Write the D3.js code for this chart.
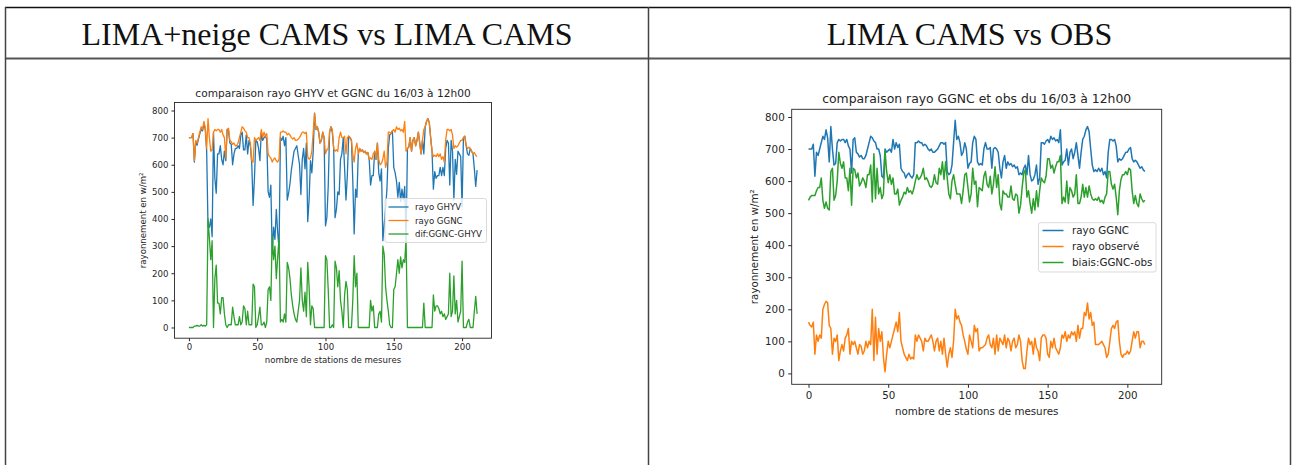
<!DOCTYPE html>
<html lang="fr">
<head>
<meta charset="UTF-8">
<title>Comparaison rayonnement</title>
<script src="https://d3js.org/d3.v7.min.js"></script>
<style>
  body { margin: 0; background: #fff; }
  svg { display: block; }
  .tick text { fill: #262626; }
  .tick line { stroke: #262626; }
</style>
</head>
<body>
<svg width="1292" height="465"></svg>
<script>
// ---- data ----
const headers = ["LIMA+neige CAMS vs LIMA CAMS", "LIMA CAMS vs OBS"];

const ggnc = [
  700,700,700,715,615,690,680,700,720,740,730,760,735,660,770,700,650,655,720,730,
  725,730,730,720,730,710,700,625,730,735,690,685,675,680,670,670,680,700,720,740,
  735,725,720,700,700,680,615,610,700,690,695,700,690,730,700,720,705,715,640,630,
  625,610,620,625,615,610,620,720,720,725,720,720,710,715,710,700,695,700,690,690,
  695,700,710,720,720,715,720,630,620,625,650,720,790,730,740,720,680,690,720,700,
  640,655,660,720,740,730,660,650,655,650,700,720,700,700,705,640,700,705,700,690,
  640,610,660,680,640,660,650,655,645,650,640,645,620,625,620,640,650,620,680,620,
  600,605,620,650,590,610,720,720,715,725,730,720,740,730,735,725,730,720,760,650,
  660,665,700,650,690,700,670,690,720,680,640,690,730,740,760,770,755,700,650,630,
  635,630,640,630,640,620,630,610,690,730,730,725,730,710,660,670,665,670,680,690,
  690,700,705,670,660,665,660,650,640,645,635,630
];

const ghyv = [
  700,700,700,715,610,685,672,695,715,730,725,752,730,650,370,370,400,335,720,550,
  495,640,640,670,620,600,650,615,730,725,680,675,600,640,660,660,670,660,710,720,
  655,655,710,640,690,670,605,450,550,690,685,660,615,720,690,700,705,695,500,480,
  525,270,370,325,435,350,290,700,690,705,670,700,470,495,530,580,615,650,660,670,
  635,600,490,620,660,585,680,390,470,615,570,650,790,730,740,720,680,690,720,700,
  375,405,520,720,740,720,660,405,435,500,490,620,640,700,585,470,560,705,700,690,
  540,345,510,480,640,660,650,655,645,650,640,645,620,525,560,560,650,620,680,570,
  540,585,320,380,440,510,660,710,715,725,590,570,540,480,535,465,510,470,520,320,
  660,665,700,650,690,700,670,690,720,680,640,690,640,740,760,770,755,700,650,510,
  575,550,560,560,590,560,590,560,660,690,680,525,690,650,470,620,565,650,640,630,
  445,700,705,670,640,635,660,650,640,585,520,580
];

const difGgncGhyv = [
  0,0,0,0,5,5,8,5,5,10,5,8,5,10,400,330,250,320,0,180,
  230,90,90,50,110,110,50,10,0,10,10,10,75,40,10,10,10,40,10,20,
  80,70,10,60,10,10,10,160,150,0,10,40,75,10,10,20,0,20,140,150,
  100,340,250,300,180,260,330,20,30,20,50,20,240,220,180,120,80,50,30,20,
  60,100,220,100,60,130,40,240,150,10,80,70,0,0,0,0,0,0,0,0,
  265,250,140,0,0,10,0,245,220,150,210,100,60,0,120,170,140,0,0,0,
  100,265,150,200,0,0,0,0,0,0,0,0,0,100,60,80,0,0,0,50,
  60,20,300,270,150,100,60,10,0,0,140,150,200,250,200,260,220,250,240,330,
  0,0,0,0,0,0,0,0,0,0,0,0,90,0,0,0,0,0,0,120,
  60,80,80,70,50,60,40,50,30,40,50,200,40,60,190,50,100,20,40,60,
  245,0,0,0,20,30,0,0,0,60,115,50
];

const obs = [
  160,150,145,160,60,120,100,120,110,200,215,225,220,150,140,60,110,100,120,40,
  70,90,70,110,120,140,60,100,90,100,80,60,90,85,60,70,100,80,100,90,
  200,40,175,60,140,100,130,50,5,60,100,80,100,120,140,160,130,190,100,80,
  60,50,40,60,45,50,45,120,100,120,110,100,70,110,100,100,110,120,100,70,
  100,110,70,100,60,110,60,20,60,80,50,100,200,170,180,160,150,120,100,75,
  60,120,100,80,150,130,140,70,80,80,85,90,110,120,90,80,110,60,120,70,
  110,100,90,120,80,110,100,70,100,110,80,90,120,100,40,15,15,70,110,90,
  100,60,110,80,70,40,110,120,120,110,60,50,100,80,110,80,70,60,80,120,
  110,130,100,120,110,130,120,130,100,150,110,140,140,190,180,220,170,190,150,160,
  90,90,90,95,100,90,80,50,60,100,140,150,140,160,165,100,60,50,60,60,
  70,60,70,100,130,110,130,130,80,100,100,90
];

const biaisGgncObs = [
  540,550,555,555,555,570,580,580,610,540,515,535,515,510,630,640,540,555,600,690,
  655,640,660,610,610,570,640,525,640,635,610,625,585,595,610,600,580,620,620,650,
  535,685,545,640,560,580,545,560,695,630,595,620,590,610,560,560,575,525,540,550,
  565,560,580,565,570,560,575,600,620,605,610,620,640,605,610,600,585,580,590,620,
  595,590,640,620,660,605,660,610,560,545,600,620,590,560,560,560,530,570,620,625,
  580,535,560,640,590,600,520,580,575,570,615,630,590,580,615,560,590,645,580,620,
  530,510,570,560,560,550,550,585,545,540,560,555,500,525,580,625,635,550,570,530,
  500,545,510,570,520,570,610,600,595,615,670,670,640,650,625,645,660,660,680,530,
  550,535,600,530,580,570,550,560,620,530,530,550,590,550,580,550,585,560,545,540,
  545,540,550,535,540,530,550,560,630,630,590,575,590,550,495,570,605,620,620,630,
  620,640,635,570,530,555,530,520,560,545,535,540
];

const xTicks = [0, 50, 100, 150, 200];
const yTicks = [0, 100, 200, 300, 400, 500, 600, 700, 800];
const xLim = [-10.55, 221.55];
const yLimLeft = [-39.5, 829.5];
const yLimRight = [-34, 824];

const colors = { blue: "#1f77b4", orange: "#ff7f0e", green: "#2ca02c" };

// ---- table frame ----
const svg = d3.select("svg");
const frame = svg.append("g").attr("fill", "none");
frame.append("line").attr("x1", 5).attr("x2", 1291).attr("y1", 7.5).attr("y2", 7.5)
  .attr("stroke", "#111").attr("stroke-width", 1.3);
frame.append("line").attr("x1", 5).attr("x2", 1291).attr("y1", 58.5).attr("y2", 58.5)
  .attr("stroke", "#555").attr("stroke-width", 2);
[5.5, 648.5, 1290.5].forEach(x => {
  frame.append("line").attr("x1", x).attr("x2", x).attr("y1", 7).attr("y2", 465)
    .attr("stroke", "#444").attr("stroke-width", 1.5);
});

svg.selectAll(".header")
  .data(headers)
  .enter()
  .append("text")
  .attr("class", "header")
  .attr("x", (d, i) => i === 0 ? 327 : 969.5)
  .attr("y", 44.5)
  .attr("text-anchor", "middle")
  .attr("font-family", "Liberation Serif, serif")
  .attr("font-size", 32)
  .attr("fill", "#111")
  .text(d => d);

// ---- one matplotlib-like panel ----
function drawChart(cfg) {
  const g = svg.append("g");
  const x = d3.scaleLinear().domain(xLim).range([cfg.left, cfg.right]);
  const y = d3.scaleLinear().domain(cfg.yLim).range([cfg.bottom, cfg.top]);
  const fs = cfg.fontSize;

  const line = d3.line()
    .x((d, i) => x(i))
    .y(d => y(d));

  const plot = g.append("g");
  cfg.series.forEach(s => {
    plot.append("path")
      .datum(s.values)
      .attr("fill", "none")
      .attr("stroke", s.color)
      .attr("stroke-width", cfg.lineWidth)
      .attr("stroke-linejoin", "round")
      .attr("d", line);
  });

  const xAxis = d3.axisBottom(x).tickValues(xTicks).tickSize(cfg.tick).tickPadding(cfg.tick);
  const yAxis = d3.axisLeft(y).tickValues(yTicks).tickSize(cfg.tick).tickPadding(cfg.tick);

  g.append("g")
    .attr("transform", `translate(0,${cfg.bottom})`)
    .call(xAxis)
    .call(a => a.select(".domain").remove())
    .selectAll("text")
    .attr("font-family", "DejaVu Sans").attr("font-size", fs);

  g.append("g")
    .attr("transform", `translate(${cfg.left},0)`)
    .call(yAxis)
    .call(a => a.select(".domain").remove())
    .selectAll("text")
    .attr("font-family", "DejaVu Sans").attr("font-size", fs);

  g.append("rect")
    .attr("x", cfg.left).attr("y", cfg.top)
    .attr("width", cfg.right - cfg.left).attr("height", cfg.bottom - cfg.top)
    .attr("fill", "none").attr("stroke", "#262626").attr("stroke-width", 0.9);

  g.append("text")
    .attr("x", (cfg.left + cfg.right) / 2).attr("y", cfg.titleY)
    .attr("text-anchor", "middle")
    .attr("font-family", "DejaVu Sans").attr("font-size", cfg.titleSize)
    .attr("fill", "#262626")
    .text(cfg.title);

  g.append("text")
    .attr("x", (cfg.left + cfg.right) / 2).attr("y", cfg.xlabelY)
    .attr("text-anchor", "middle")
    .attr("font-family", "DejaVu Sans").attr("font-size", fs)
    .attr("fill", "#262626")
    .text("nombre de stations de mesures");

  g.append("text")
    .attr("transform", `translate(${cfg.ylabelX},${(cfg.top + cfg.bottom) / 2}) rotate(-90)`)
    .attr("text-anchor", "middle")
    .attr("dominant-baseline", "central")
    .attr("font-family", "DejaVu Sans").attr("font-size", fs)
    .attr("fill", "#262626")
    .text("rayonnement en w/m²");

  // legend
  const lg = g.append("g").attr("transform", `translate(${cfg.legend.x},${cfg.legend.y})`);
  lg.append("rect")
    .attr("width", cfg.legend.w).attr("height", cfg.legend.h)
    .attr("rx", 2)
    .attr("fill", "rgba(255,255,255,0.8)")
    .attr("stroke", "#d6d6d6").attr("stroke-width", 0.9);
  cfg.series.forEach((s, i) => {
    const cy = cfg.legend.first + i * cfg.legend.step;
    lg.append("line")
      .attr("x1", cfg.legend.pad).attr("x2", cfg.legend.pad + cfg.legend.handle)
      .attr("y1", cy).attr("y2", cy)
      .attr("stroke", s.color).attr("stroke-width", cfg.lineWidth);
    lg.append("text")
      .attr("x", cfg.legend.textX).attr("y", cy)
      .attr("dominant-baseline", "central")
      .attr("font-family", "DejaVu Sans").attr("font-size", fs)
      .attr("fill", "#262626")
      .text(s.label);
  });
}

drawChart({
  left: 174.5, right: 491.5, top: 102.5, bottom: 338.2,
  yLim: yLimLeft, fontSize: 8.6, titleSize: 10.6, tick: 3, lineWidth: 1.3,
  titleY: 96.5, xlabelY: 363, ylabelX: 142.5,
  title: "comparaison rayo GHYV et GGNC du 16/03 à 12h00",
  series: [
    { label: "rayo GHYV", values: ghyv, color: colors.blue },
    { label: "rayo GGNC", values: ggnc, color: colors.orange },
    { label: "dif:GGNC-GHYV", values: difGgncGhyv, color: colors.green }
  ],
  legend: { x: 385, y: 198.5, w: 101.5, h: 44, first: 8.5, step: 13.5, pad: 3.5, handle: 20, textX: 30 }
});

drawChart({
  left: 791.7, right: 1161.7, top: 109.3, bottom: 384.3,
  yLim: yLimRight, fontSize: 10.3, titleSize: 12.4, tick: 3.5, lineWidth: 1.5,
  titleY: 102.5, xlabelY: 414.5, ylabelX: 753.5,
  title: "comparaison rayo GGNC et obs du 16/03 à 12h00",
  series: [
    { label: "rayo GGNC", values: ggnc, color: colors.blue },
    { label: "rayo observé", values: obs, color: colors.orange },
    { label: "biais:GGNC-obs", values: biaisGgncObs, color: colors.green }
  ],
  legend: { x: 1038.5, y: 222.7, w: 117.5, h: 49.3, first: 7.8, step: 16, pad: 4, handle: 21, textX: 33.5 }
});
</script>
</body>
</html>
